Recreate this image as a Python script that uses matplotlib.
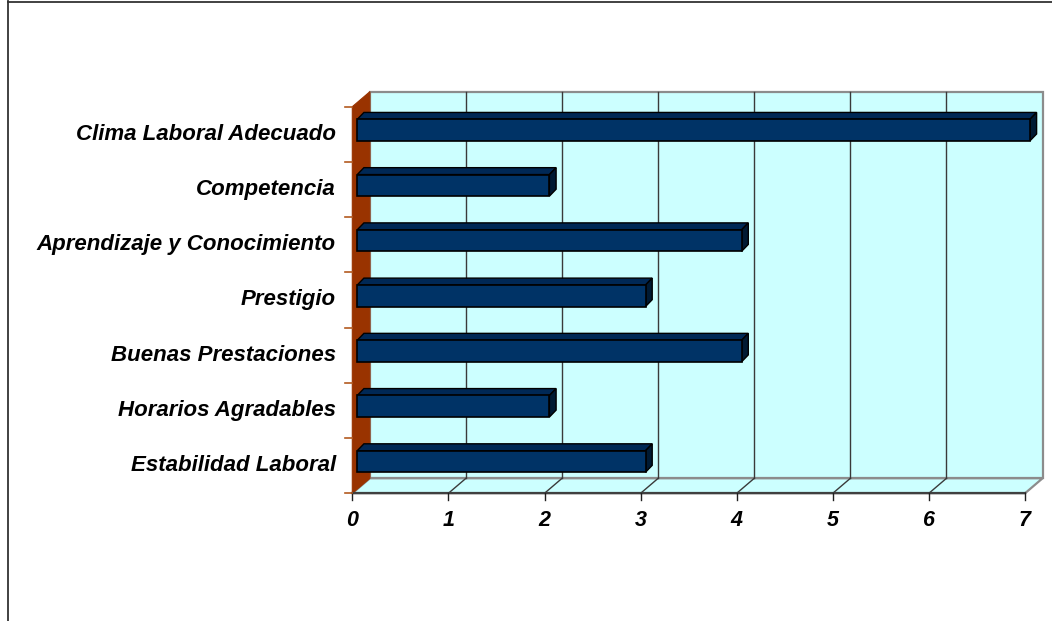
import matplotlib
matplotlib.use("Agg")
import matplotlib.pyplot as plt
from matplotlib.patches import Polygon, Rectangle
from matplotlib.lines import Line2D

# Data (bottom to top)
categories = ["Estabilidad Laboral", "Horarios Agradables", "Buenas Prestaciones",
              "Prestigio", "Aprendizaje y Conocimiento", "Competencia",
              "Clima Laboral Adecuado"]
values = [3, 2, 4, 3, 4, 2, 7]
x_ticks = [0, 1, 2, 3, 4, 5, 6, 7]

# 3D look (depth offsets in data units)
DX, DY = 0.183, 0.272
F0, F1 = 0.28, 0.66      # bar front / back depth fraction
BAR_H = 0.39
BAR_DY = 0.125

W, H = 1052, 621
fig = plt.figure(figsize=(W / 100, H / 100), dpi=100)
fig.patch.set_facecolor("white")

# axes = front plane of the chart
ax = fig.add_axes([352.3 / W, 1 - 493.3 / H, (1025 - 352.3) / W, (493.3 - 106.7) / H])
ax.set_xlim(0, 7)
ax.set_ylim(-0.5, 6.5)
ax.axis("off")

n = len(categories)
xmax = x_ticks[-1]
y0, y1 = -0.5, n - 0.5

wall = "#CCFFFF"
# back wall
ax.add_patch(Polygon([(DX, y0 + DY), (xmax + DX, y0 + DY), (xmax + DX, y1 + DY), (DX, y1 + DY)],
                     closed=True, facecolor=wall, edgecolor="#8c8c8c", lw=1.6, clip_on=False, zorder=1))
# floor
ax.add_patch(Polygon([(0, y0), (xmax, y0), (xmax + DX, y0 + DY), (DX, y0 + DY)],
                     closed=True, facecolor=wall, edgecolor="#8c8c8c", lw=1.6, clip_on=False, zorder=1))
# left wall
ax.add_patch(Polygon([(0, y0), (DX, y0 + DY), (DX, y1 + DY), (0, y1)],
                     closed=True, facecolor="#993300", edgecolor="#993300", lw=0.8, clip_on=False, zorder=2))

# gridlines
for k in x_ticks[1:-1]:
    ax.plot([k + DX, k + DX], [y0 + DY, y1 + DY], color="#3a3a3a", lw=1.0, zorder=2, clip_on=False)
    ax.plot([k, k + DX], [y0, y0 + DY], color="#3a3a3a", lw=1.0, zorder=2, clip_on=False)

# x axis line and ticks
ax.plot([0, xmax], [y0, y0], color="#404040", lw=1.6, zorder=3, clip_on=False)
for k in x_ticks:
    ax.plot([k, k], [y0, y0 - 0.13], color="#202020", lw=1.0, zorder=3, clip_on=False)
    ax.text(k, y0 - 0.5, str(k), ha="center", va="center", fontsize=15.5,
            fontweight="bold", fontstyle="italic", family="Liberation Sans", clip_on=False)

# y ticks on the left edge
for j in range(n + 1):
    ax.plot([-0.075, 0], [j - 0.5, j - 0.5], color="#b35a1f", lw=1.2, zorder=3, clip_on=False)

# bars
for i, (cat, v) in enumerate(zip(categories, values)):
    xa = F0 * DX
    yc = i + F0 * DY
    dxb = (F1 - F0) * DX
    dyb = BAR_DY
    yb, yt = yc - BAR_H / 2, yc + BAR_H / 2
    # top face
    ax.add_patch(Polygon([(xa, yt), (xa + v, yt), (xa + v + dxb, yt + dyb), (xa + dxb, yt + dyb)],
                         closed=True, facecolor="#002855", edgecolor="black", lw=1.0, zorder=4, clip_on=False))
    # end face
    ax.add_patch(Polygon([(xa + v, yb), (xa + v + dxb, yb + dyb), (xa + v + dxb, yt + dyb), (xa + v, yt)],
                         closed=True, facecolor="#001a33", edgecolor="black", lw=1.0, zorder=4, clip_on=False))
    # front face
    ax.add_patch(Rectangle((xa, yb), v, BAR_H, facecolor="#003366", edgecolor="black",
                           lw=1.2, zorder=5, clip_on=False))
    ax.text(-0.17, i, cat, ha="right", va="center", fontsize=16, fontweight="bold",
            fontstyle="italic", family="Liberation Sans", clip_on=False)

# outer frame (left and top edges visible)
fig.add_artist(Line2D([7.5 / W, 7.5 / W], [0, 1 - 1 / H], color="#333333", lw=1.3))
fig.add_artist(Line2D([7.5 / W, 1], [1 - 1.5 / H, 1 - 1.5 / H], color="#333333", lw=1.3))

fig.savefig("out.png", dpi=100)
